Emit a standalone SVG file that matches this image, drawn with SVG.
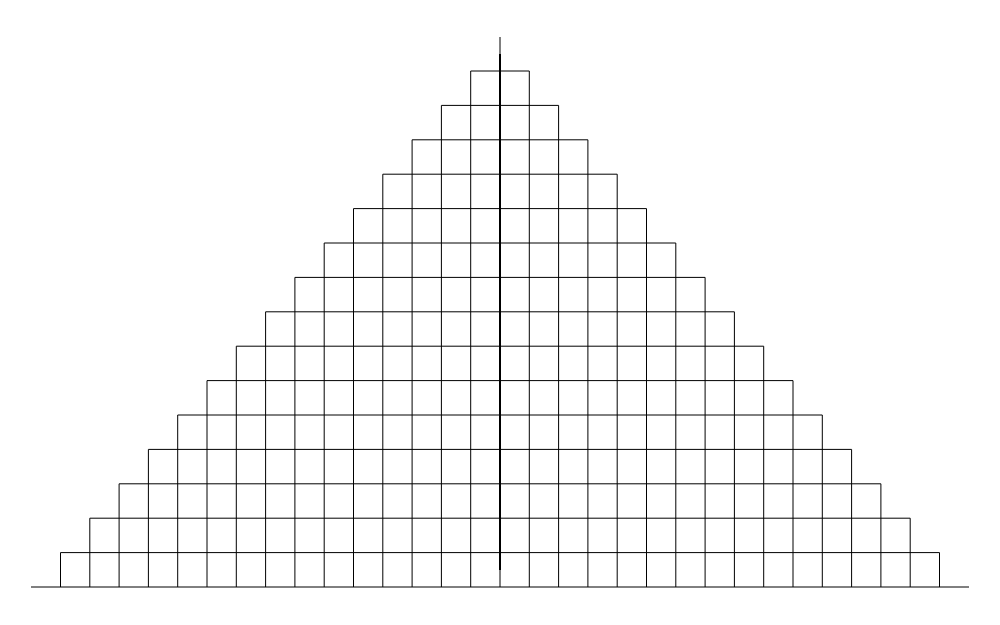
<svg xmlns="http://www.w3.org/2000/svg" width="1000" height="625" viewBox="0 0 1000 625">
<style>
.g{fill:none;stroke:#000;stroke-width:1}
.axis{fill:none;stroke:#000;stroke-width:2}
</style>
<rect width="1000" height="625" fill="#fff"/>
<g id="grid">
<path class="g" d="
M470.7 71H529.3
M441.4 105.4H558.6
M412.1 139.8H587.9
M382.8 174.2H617.2
M353.5 208.6H646.5
M324.2 243H675.8
M294.9 277.4H705.1
M265.6 311.8H734.4
M236.3 346.2H763.7
M207 380.6H793
M177.7 415H822.3
M148.4 449.4H851.6
M119.1 483.8H880.9
M89.8 518.2H910.2
M60.5 552.6H939.5
M500 37V587
M470.7 71V587 M529.3 71V587
M441.4 105.4V587 M558.6 105.4V587
M412.1 139.8V587 M587.9 139.8V587
M382.8 174.2V587 M617.2 174.2V587
M353.5 208.6V587 M646.5 208.6V587
M324.2 243V587 M675.8 243V587
M294.9 277.4V587 M705.1 277.4V587
M265.6 311.8V587 M734.4 311.8V587
M236.3 346.2V587 M763.7 346.2V587
M207 380.6V587 M793 380.6V587
M177.7 415V587 M822.3 415V587
M148.4 449.4V587 M851.6 449.4V587
M119.1 483.8V587 M880.9 483.8V587
M89.8 518.2V587 M910.2 518.2V587
M60.5 552.6V587 M939.5 552.6V587
"/>
</g>
<g id="baseline">
<line class="g" x1="31" y1="587" x2="969" y2="587"/>
</g>
<g id="axis">
<line class="axis" x1="500" y1="54" x2="500" y2="570"/>
</g>
</svg>
